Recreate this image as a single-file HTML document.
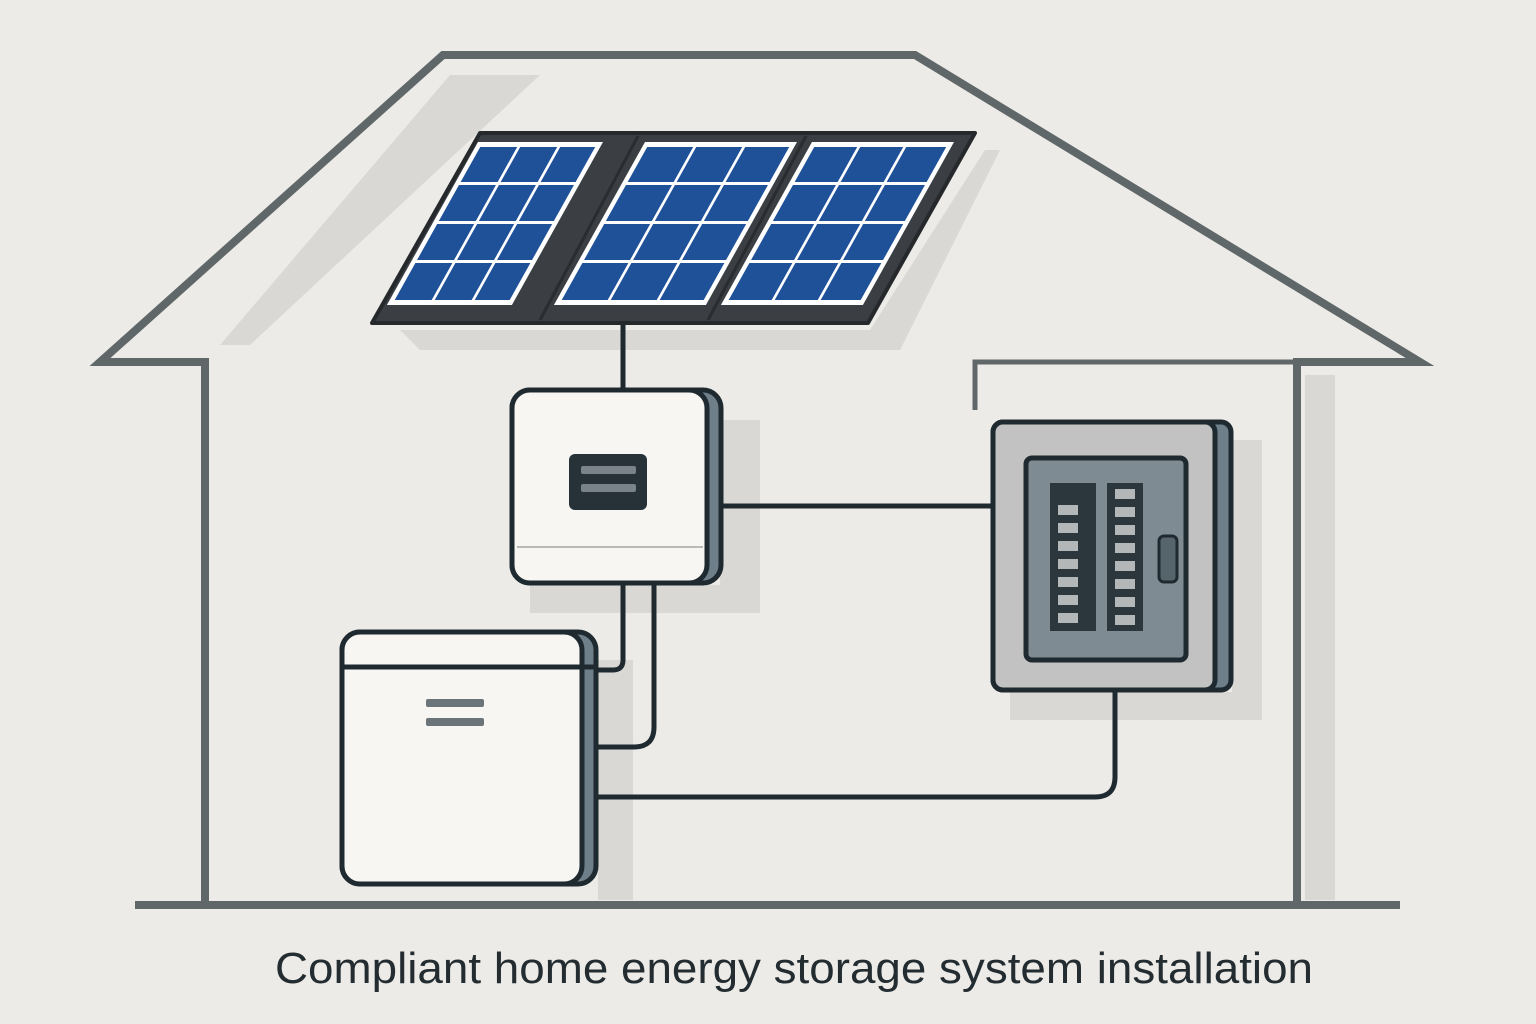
<!DOCTYPE html>
<html><head><meta charset="utf-8"><style>
html,body{margin:0;padding:0;background:#ecebe7;}
svg{display:block}
</style></head><body>
<svg width="1536" height="1024" viewBox="0 0 1536 1024" xmlns="http://www.w3.org/2000/svg">
<rect width="1536" height="1024" fill="#ecebe7"/>
<!-- shadows -->
<g fill="#d9d8d5">
<polygon points="450,75 540,75 250,345 220,345"/>
<polygon points="985,150 1000,150 900,350 420,350 400,330 870,330"/>
<rect x="720" y="420" width="40" height="190"/>
<rect x="530" y="585" width="230" height="28"/>
<rect x="598" y="660" width="35" height="240"/>
<rect x="1232" y="440" width="30" height="280"/>
<rect x="1010" y="692" width="250" height="28"/>
<rect x="1305" y="375" width="30" height="525"/>
</g>
<!-- house -->
<g fill="none" stroke="#5f6769" stroke-width="8" stroke-linejoin="miter">
<polyline points="205,903 205,362 100,362 443,55 915,55 1420,362 1297,362 1297,903"/>
<polyline points="975,410 975,362 1297,362" stroke-width="5"/>
<line x1="135" y1="905" x2="1400" y2="905"/>
</g>
<!-- cables -->
<g fill="none" stroke="#1f2a30" stroke-width="5" stroke-linecap="round">
<line x1="623" y1="320" x2="623" y2="390"/>
<line x1="720" y1="506" x2="995" y2="506"/>
<path d="M623 585 V660 Q623 670 613 670 H590"/>
<path d="M654 585 V727 Q654 747 634 747 H590"/>
<path d="M590 797 H1095 Q1115 797 1115 777 V690"/>
</g>
<!-- solar frame -->
<polygon points="480,133 975,133 868,323 372,323" fill="#3b3f43" stroke="#26292c" stroke-width="4" stroke-linejoin="round"/>
<line x1="638" y1="136" x2="540" y2="320" stroke="#2a2d30" stroke-width="3"/>
<line x1="806" y1="136" x2="708" y2="320" stroke="#2a2d30" stroke-width="3"/>
<!-- panels -->
<g transform="translate(478,142) skewX(-29.2)">
<rect x="0" y="0" width="125" height="163" fill="#fff"/>
<g fill="#1f5199"><rect x="5" y="5" width="37" height="35"/><rect x="45" y="5" width="37" height="35"/><rect x="85" y="5" width="35" height="35"/>
<rect x="5" y="43" width="37" height="36"/><rect x="45" y="43" width="37" height="36"/><rect x="85" y="43" width="35" height="36"/>
<rect x="5" y="82" width="37" height="36"/><rect x="45" y="82" width="37" height="36"/><rect x="85" y="82" width="35" height="36"/>
<rect x="5" y="121" width="37" height="37"/><rect x="45" y="121" width="37" height="37"/><rect x="85" y="121" width="35" height="37"/></g>
</g>
<g transform="translate(645,142) skewX(-29.2)">
<rect x="0" y="0" width="152" height="163" fill="#fff"/>
<g fill="#1f5199"><rect x="5" y="5" width="46" height="35"/><rect x="54" y="5" width="46" height="35"/><rect x="103" y="5" width="44" height="35"/>
<rect x="5" y="43" width="46" height="36"/><rect x="54" y="43" width="46" height="36"/><rect x="103" y="43" width="44" height="36"/>
<rect x="5" y="82" width="46" height="36"/><rect x="54" y="82" width="46" height="36"/><rect x="103" y="82" width="44" height="36"/>
<rect x="5" y="121" width="46" height="37"/><rect x="54" y="121" width="46" height="37"/><rect x="103" y="121" width="44" height="37"/></g>
</g>
<g transform="translate(812,142) skewX(-29.2)">
<rect x="0" y="0" width="142" height="163" fill="#fff"/>
<g fill="#1f5199"><rect x="5" y="5" width="43" height="35"/><rect x="51" y="5" width="43" height="35"/><rect x="97" y="5" width="40" height="35"/>
<rect x="5" y="43" width="43" height="36"/><rect x="51" y="43" width="43" height="36"/><rect x="97" y="43" width="40" height="36"/>
<rect x="5" y="82" width="43" height="36"/><rect x="51" y="82" width="43" height="36"/><rect x="97" y="82" width="40" height="36"/>
<rect x="5" y="121" width="43" height="37"/><rect x="51" y="121" width="43" height="37"/><rect x="97" y="121" width="40" height="37"/></g>
</g>
<!-- inverter -->
<rect x="512" y="390" width="209" height="193" rx="18" fill="#6f7f8a" stroke="#1f2a30" stroke-width="5"/>
<rect x="512" y="390" width="195" height="193" rx="18" fill="#f7f6f2" stroke="#1f2a30" stroke-width="5"/>
<line x1="517" y1="547" x2="703" y2="547" stroke="#b9bab8" stroke-width="2"/>
<rect x="569" y="454" width="78" height="56" rx="6" fill="#263238"/>
<rect x="581" y="466" width="55" height="8" rx="2" fill="#7a8389"/>
<rect x="581" y="484" width="55" height="8" rx="2" fill="#7a8389"/>
<!-- battery -->
<rect x="342" y="632" width="254" height="252" rx="18" fill="#6f7f8a" stroke="#1f2a30" stroke-width="5"/>
<rect x="342" y="632" width="240" height="252" rx="18" fill="#f7f6f2" stroke="#1f2a30" stroke-width="5"/>
<line x1="344" y1="667" x2="594" y2="667" stroke="#1f2a30" stroke-width="5"/>
<rect x="426" y="699" width="58" height="8" rx="2" fill="#6b7479"/>
<rect x="426" y="718" width="58" height="8" rx="2" fill="#6b7479"/>
<!-- breaker -->
<rect x="993" y="422" width="238" height="268" rx="10" fill="#6f7f8a" stroke="#1f2a30" stroke-width="5"/>
<rect x="993" y="422" width="222" height="268" rx="10" fill="#c1c2c1" stroke="#1f2a30" stroke-width="5"/>
<rect x="1026" y="458" width="160" height="202" rx="6" fill="#7f8b92" stroke="#1f2a30" stroke-width="5"/>
<rect x="1050" y="483" width="46" height="148" fill="#2b363d"/>
<rect x="1107" y="483" width="36" height="148" fill="#2b363d"/>
<g fill="#b4b7b7">
<rect x="1058" y="505" width="20" height="10"/><rect x="1058" y="523" width="20" height="10"/><rect x="1058" y="541" width="20" height="10"/><rect x="1058" y="559" width="20" height="10"/><rect x="1058" y="577" width="20" height="10"/><rect x="1058" y="595" width="20" height="10"/><rect x="1058" y="613" width="20" height="10"/>
<rect x="1115" y="489" width="20" height="10"/><rect x="1115" y="507" width="20" height="10"/><rect x="1115" y="525" width="20" height="10"/><rect x="1115" y="543" width="20" height="10"/><rect x="1115" y="561" width="20" height="10"/><rect x="1115" y="579" width="20" height="10"/><rect x="1115" y="597" width="20" height="10"/><rect x="1115" y="615" width="20" height="10"/>
</g>
<rect x="1159" y="536" width="18" height="46" rx="5" fill="#56646c" stroke="#1f2a30" stroke-width="3"/>
<text x="275" y="983" textLength="1038" lengthAdjust="spacingAndGlyphs" font-family="Liberation Sans, sans-serif" font-size="44" fill="#232c31">Compliant home energy storage system installation</text>
</svg>
</body></html>
